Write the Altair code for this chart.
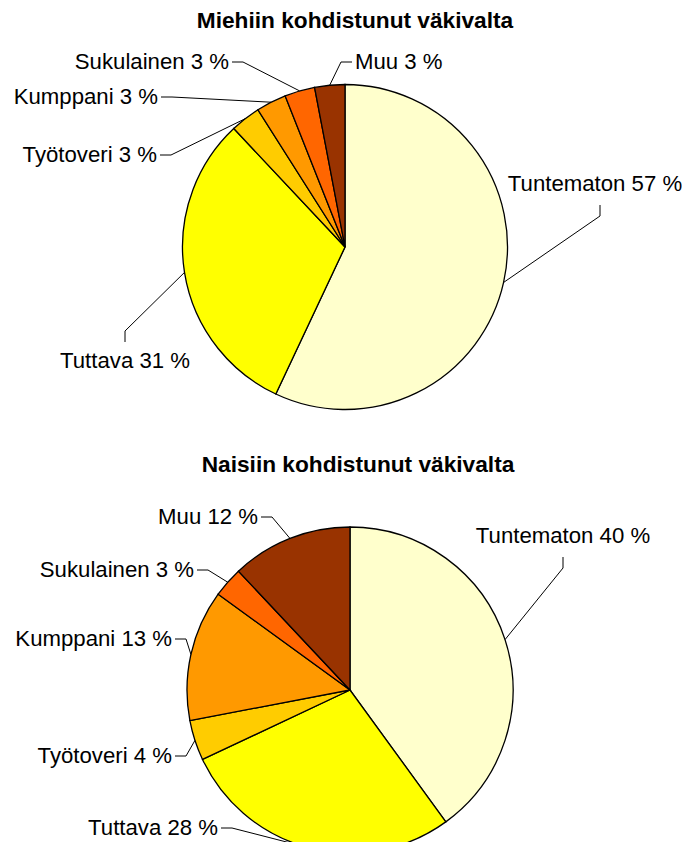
import math
import altair as alt
import pandas as pd

# ---------------- data ----------------
categories = ["Tuntematon", "Tuttava", "Työtoveri", "Kumppani", "Sukulainen", "Muu"]
men_values = [57, 31, 3, 3, 3, 3]
women_values = [40, 28, 4, 13, 3, 12]
titles = ["Miehiin kohdistunut väkivalta", "Naisiin kohdistunut väkivalta"]
colors = ["#FFFFCC", "#FFFF00", "#FFCC00", "#FF9900", "#FF6600", "#993300"]

# ---------------- layout (page pixels) ----------------
W, H = 674, 834
M = 8  # page margin
FONT = "Liberation Sans"
pies = [
    {"cx": 345, "cy": 247, "r": 162.5, "tx": 355, "ty": 28},
    {"cx": 350, "cy": 690, "r": 163, "tx": 358, "ty": 472},
]
# end of each leader line next to its label, the side of the label it leaves from,
# and a small horizontal nudge of the text
label_layout = [
    {"Tuntematon": (600, 205, "down", -5), "Tuttava": (125, 342, "up", 0),
     "Työtoveri": (160, 155, "right", 0), "Kumppani": (161, 97, "right", 0),
     "Sukulainen": (232, 62, "right", 0), "Muu": (352, 62, "left", 0)},
    {"Tuntematon": (563, 557, "down", 0), "Tuttava": (221, 828, "right", 0),
     "Työtoveri": (175, 756, "right", 0), "Kumppani": (175, 639, "right", 0),
     "Sukulainen": (197, 570, "right", 0), "Muu": (261, 517, "right", 0)},
]
SEG = 11

xs = alt.Scale(domain=[0, W], nice=False, zero=False)
ys = alt.Scale(domain=[0, H], reverse=True, nice=False, zero=False)
color_scale = alt.Scale(domain=categories, range=colors)

layers = []
line_rows, text_rows, title_rows = [], [], []
for i, values in enumerate([men_values, women_values]):
    p = pies[i]
    df = pd.DataFrame({"category": categories, "value": values,
                       "order": list(range(len(categories)))})
    layers.append(
        alt.Chart(df).mark_arc(radius=p["r"], stroke="black", strokeWidth=1.3).encode(
            theta=alt.Theta("value:Q", stack=True),
            order=alt.Order("order:Q"),
            color=alt.Color("category:N", scale=color_scale, legend=None),
            x=alt.value(p["cx"] - M),
            y=alt.value(p["cy"] - M),
        )
    )
    total = sum(values)
    cum = 0
    for cat, v in zip(categories, values):
        mid = (cum + v / 2) / total
        cum += v
        a = 2 * math.pi * mid
        ex = p["cx"] + p["r"] * math.sin(a)
        ey = p["cy"] - p["r"] * math.cos(a)
        endx, endy, side, nudge = label_layout[i][cat]
        if side == "right":
            elx, ely = endx + SEG, endy
            tx, ty, grp = endx - 3, endy, "rm"
        elif side == "left":
            elx, ely = endx - SEG, endy
            tx, ty, grp = endx + 3, endy, "lm"
        elif side == "down":
            elx, ely = endx, endy + SEG
            tx, ty, grp = endx, endy - 14, "cb"
        else:
            elx, ely = endx, endy - SEG
            tx, ty, grp = endx, endy + 26, "cb"
        key = f"{i}-{cat}"
        for s, (px, py) in enumerate([(ex, ey), (elx, ely), (endx, endy)]):
            line_rows.append({"key": key, "seq": s, "x": px - M, "y": py - M})
        text_rows.append({"label": f"{cat} {v} %", "x": tx + nudge - M, "y": ty - M, "grp": grp})
    title_rows.append({"label": titles[i], "x": p["tx"] - M, "y": p["ty"] - M})

lines = alt.Chart(pd.DataFrame(line_rows)).mark_line(color="black", strokeWidth=1).encode(
    x=alt.X("x:Q", scale=xs, axis=None),
    y=alt.Y("y:Q", scale=ys, axis=None),
    detail="key:N",
    order="seq:Q",
)
layers.append(lines)

tdf = pd.DataFrame(text_rows)
for grp, align, baseline in [("rm", "right", "middle"), ("lm", "left", "middle"),
                             ("cb", "center", "alphabetic")]:
    layers.append(
        alt.Chart(tdf[tdf.grp == grp]).mark_text(
            align=align, baseline=baseline, font=FONT, fontSize=22.2, color="black"
        ).encode(
            x=alt.X("x:Q", scale=xs, axis=None),
            y=alt.Y("y:Q", scale=ys, axis=None),
            text="label:N",
        )
    )

layers.append(
    alt.Chart(pd.DataFrame(title_rows)).mark_text(
        align="center", baseline="alphabetic", font=FONT, fontSize=22.7,
        fontWeight="bold", color="black"
    ).encode(
        x=alt.X("x:Q", scale=xs, axis=None),
        y=alt.Y("y:Q", scale=ys, axis=None),
        text="label:N",
    )
)

chart = alt.layer(*layers).resolve_scale(theta="independent").properties(
    width=W, height=H, padding=0, autosize=alt.AutoSizeParams(type="none"),
    background="white",
).configure_view(stroke=None)

chart.save("out.html", embed_options={"renderer": "svg", "actions": False})
